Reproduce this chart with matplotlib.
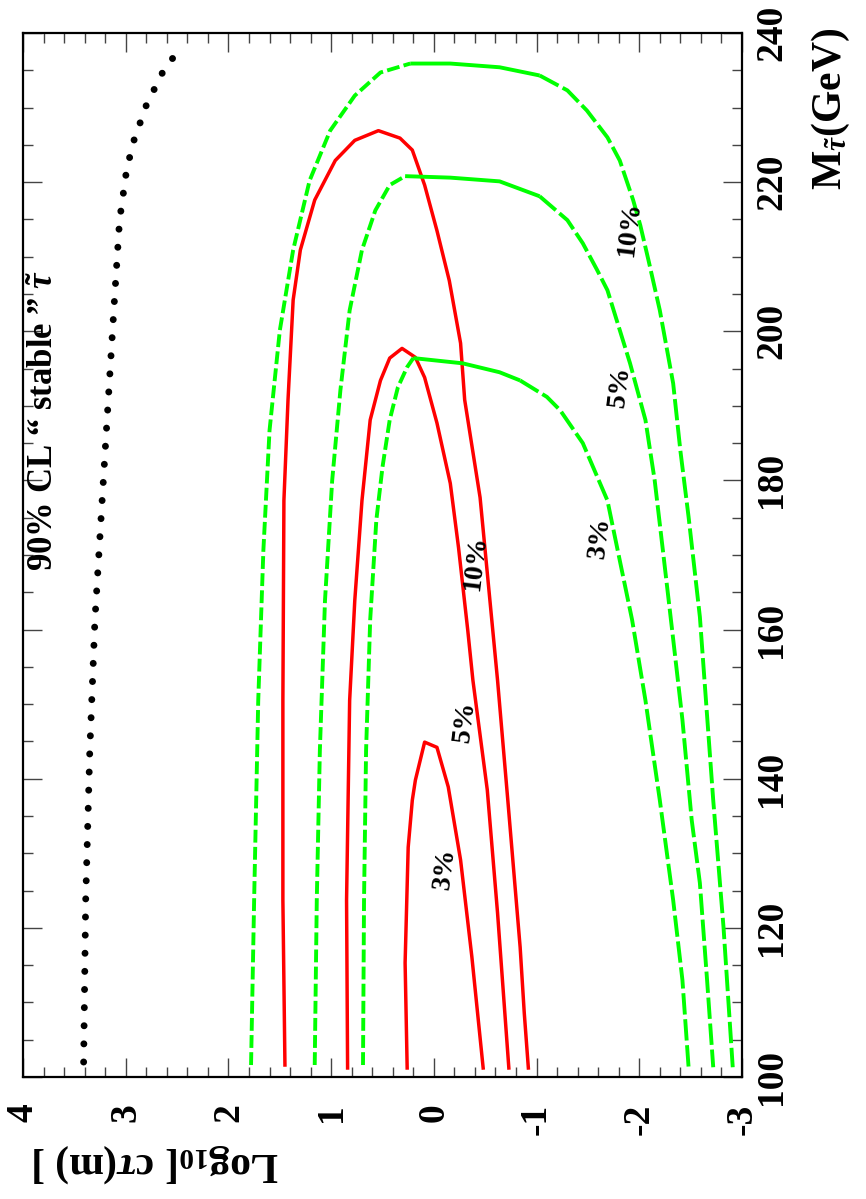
import matplotlib
matplotlib.use("Agg")
import matplotlib.pyplot as plt
from matplotlib.ticker import MultipleLocator

# values: log10(c tau [m]) against stau mass [GeV]
stable_logct = [3.41, 3.39, 3.35, 3.30, 3.23, 3.17, 3.11, 3.06, 2.99, 2.92, 2.80, 2.62, 2.49]
stable_mass = [102.0, 123.7, 143.8, 161.3, 177.3, 190.8, 204.2, 214.9, 221.8, 225.6, 230.3, 235.3, 237.5]

red10_logct = [1.45, 1.47, 1.47, 1.46, 1.42, 1.37, 1.30, 1.16, 0.96, 0.77, 0.54, 0.33,
               0.21, 0.09, -0.03, -0.15, -0.26, -0.30, -0.45, -0.62, -0.72, -0.84, -0.88, -0.92]
red10_mass = [101.6, 123.7, 150.5, 177.3, 190.8, 204.2, 210.9, 217.6, 222.9, 225.6, 226.9, 225.9,
              224.3, 219.6, 213.5, 206.8, 198.4, 190.8, 177.7, 153.2, 137.1, 117.4, 108.6, 101.2]
red5_logct = [0.84, 0.85, 0.82, 0.77, 0.70, 0.62, 0.52, 0.43, 0.31, 0.18, 0.09, -0.03,
              -0.16, -0.24, -0.33, -0.38, -0.52, -0.62, -0.73]
red5_mass = [101.2, 123.7, 150.5, 163.9, 177.3, 188.1, 193.4, 196.4, 197.7, 196.5, 193.8, 187.7,
             179.6, 171.0, 159.9, 153.2, 138.5, 122.0, 101.2]
red3_logct = [0.26, 0.28, 0.25, 0.21, 0.18, 0.09, -0.03, -0.14, -0.26, -0.37, -0.48]
red3_mass = [101.2, 115.3, 130.8, 137.1, 139.8, 144.9, 144.2, 138.9, 129.1, 116.1, 101.2]

# green curves: rising branch, flat top, falling branch
g10_left_logct = [1.78, 1.75, 1.71, 1.66, 1.60, 1.50, 1.37, 1.21, 1.01, 0.77, 0.52, 0.23]
g10_left_mass = [101.6, 123.7, 150.5, 170.6, 186.7, 200.1, 210.9, 220.2, 226.9, 231.6, 234.7, 235.9]
g10_top_logct = [0.23, -0.16, -0.64, -1.03]
g10_top_mass = [235.9, 235.9, 235.4, 234.3]
g10_right_logct = [-1.03, -1.30, -1.49, -1.69, -1.81, -1.94, -2.01, -2.09, -2.20, -2.33, -2.40,
                   -2.48, -2.59, -2.72, -2.82, -2.91]
g10_right_mass = [234.3, 232.3, 229.6, 226.0, 222.9, 217.6, 214.2, 209.5, 202.8, 193.0, 184.0,
                  175.1, 161.7, 137.1, 120.1, 101.3]

g5_left_logct = [1.16, 1.14, 1.11, 1.06, 0.99, 0.91, 0.82, 0.70, 0.57, 0.43, 0.28]
g5_left_mass = [101.6, 123.7, 143.8, 163.9, 180.0, 192.1, 202.8, 210.9, 216.2, 219.6, 220.8]
g5_top_logct = [0.28, -0.16, -0.64, -1.03]
g5_top_mass = [220.8, 220.6, 220.1, 218.1]
g5_right_logct = [-1.03, -1.30, -1.45, -1.59, -1.69, -1.91, -2.06, -2.15, -2.23, -2.32, -2.42,
                  -2.51, -2.59, -2.66, -2.72]
g5_right_mass = [218.1, 214.9, 211.8, 208.2, 205.5, 195.7, 188.1, 180.0, 170.6, 159.9, 147.9,
                 134.5, 126.0, 113.0, 101.3]

g3_left_logct = [0.69, 0.68, 0.66, 0.62, 0.56, 0.50, 0.43, 0.35, 0.26, 0.20]
g3_left_mass = [101.6, 123.7, 143.8, 161.3, 174.7, 181.8, 188.1, 192.5, 195.2, 196.4]
g3_top_logct = [0.20, -0.28, -0.64, -0.84]
g3_top_mass = [196.4, 195.7, 194.5, 193.4]
g3_right_logct = [-0.84, -1.10, -1.23, -1.45, -1.69, -1.79, -1.93, -2.06, -2.20, -2.33, -2.42, -2.48]
g3_right_mass = [193.4, 191.2, 189.4, 185.0, 177.3, 170.6, 161.3, 150.5, 137.1, 123.7, 113.0, 101.3]

label_text = ["10%", "5%", "3%", "10%", "5%", "3%"]
label_logct = [-0.41, -0.30, -0.11, -1.91, -1.81, -1.62]
label_mass = [168.9, 147.7, 127.9, 213.8, 192.6, 172.3]

x_ticks = [4, 3, 2, 1, 0, -1, -2, -3]
y_ticks = [100, 120, 140, 160, 180, 200, 220, 240]

plt.rcParams["font.family"] = ["Liberation Serif", "DejaVu Serif"]
plt.rcParams["font.weight"] = "bold"
plt.rcParams["axes.unicode_minus"] = False
plt.rcParams["mathtext.fontset"] = "custom"
plt.rcParams["mathtext.rm"] = "Liberation Serif:bold"
plt.rcParams["mathtext.it"] = "Liberation Serif:italic:bold"
plt.rcParams["mathtext.bf"] = "Liberation Serif:bold"

RED, GREEN = "#ff0000", "#00ff00"

fig = plt.figure(figsize=(8.66, 11.99), dpi=100)
ax = fig.add_axes([0.0266, 0.1018, 0.8302, 0.8707])

ax.plot(stable_logct, stable_mass, color="black", lw=5, ls=(0, (0.01, 2.6)),
        dash_capstyle="round")

for lc, m in ((red10_logct, red10_mass), (red5_logct, red5_mass), (red3_logct, red3_mass)):
    ax.plot(lc, m, color=RED, lw=2.5)

for left, top, right in (
        ((g10_left_logct, g10_left_mass), (g10_top_logct, g10_top_mass), (g10_right_logct, g10_right_mass)),
        ((g5_left_logct, g5_left_mass), (g5_top_logct, g5_top_mass), (g5_right_logct, g5_right_mass)),
        ((g3_left_logct, g3_left_mass), (g3_top_logct, g3_top_mass), (g3_right_logct, g3_right_mass))):
    ax.plot(*left, color=GREEN, lw=2.8, ls=(0, (3.3, 1.1)))
    ax.plot(*top, color=GREEN, lw=2.8, solid_capstyle="butt")
    ax.plot(*right, color=GREEN, lw=2.8, ls=(0, (5.5, 1.2)))

for t, lc, m in zip(label_text, label_logct, label_mass):
    ax.text(lc, m, t, rotation=83, ha="center", va="center", fontsize=20,
            fontweight="bold")

ax.text(3.79, 188, "90% CL “ stable ” $\\tilde{\\tau}$", rotation=90, ha="center",
        va="center", fontsize=25, fontweight="bold")

ax.set_xlim(4, -3)
ax.set_ylim(100, 240)
ax.set_xticks(x_ticks)
ax.set_yticks(y_ticks)
ax.xaxis.set_minor_locator(MultipleLocator(0.2))
ax.yaxis.set_minor_locator(MultipleLocator(5))
ax.tick_params(which="both", direction="in", top=True, bottom=True, left=True, right=True,
               labelleft=False, labelright=True, width=1.0, color="#444444")
ax.tick_params(which="major", length=13.5)
ax.tick_params(which="minor", length=7)
ax.tick_params(axis="x", labelsize=27, pad=19, labelrotation=90)
ax.tick_params(axis="y", labelsize=27, pad=9, labelrotation=90)
for lab in ax.get_yticklabels():
    lab.set_va("center")
for s in ax.spines.values():
    s.set_linewidth(1.6)

fig.text(0.037, 0.030, "Log$_{10}$[ c$\\tau$(m) ]", rotation=180, ha="left", va="center",
         fontsize=30, fontweight="bold")
fig.text(0.960, 0.977, "M$_{\\tilde{\\tau}}$(GeV)", rotation=90, ha="center", va="top",
         fontsize=30, fontweight="bold")

fig.savefig("out.png", dpi=100)
